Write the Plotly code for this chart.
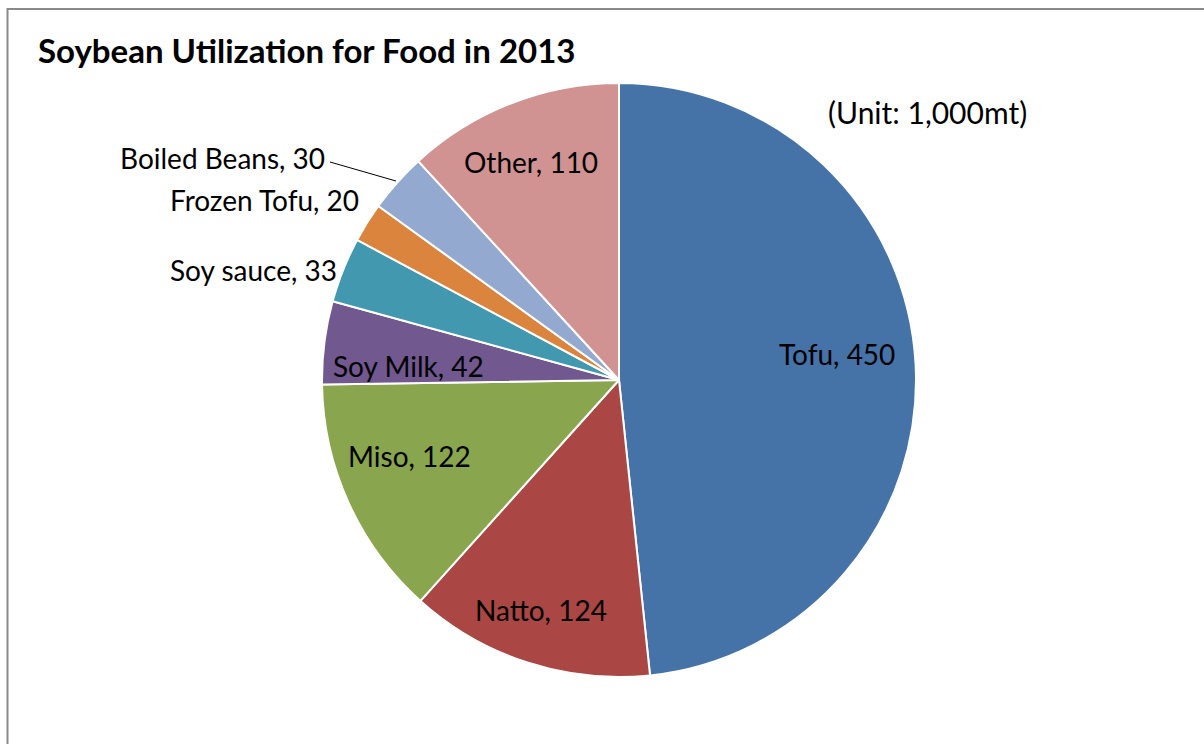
import plotly.graph_objects as go

W, H = 1204, 744

categories = ["Tofu", "Natto", "Miso", "Soy Milk", "Soy sauce", "Frozen Tofu", "Boiled Beans", "Other"]
values = [450, 124, 122, 42, 33, 20, 30, 110]
colors = ["#4572A7", "#AA4643", "#89A54E", "#71588F", "#4198AF", "#DB843D", "#93A9CF", "#D19392"]

FONT = "Lato"

def px(x):
    return x / W

def py(y):
    return 1 - y / H

cx, cy, r = 619, 380, 297

fig = go.Figure(go.Pie(
    labels=categories,
    values=values,
    sort=False,
    direction="clockwise",
    rotation=0,
    marker=dict(colors=colors, line=dict(color="white", width=2)),
    textinfo="none",
    hoverinfo="label+value",
    showlegend=False,
    domain=dict(x=[px(cx - r), px(cx + r)], y=[py(cy + r), py(cy - r)]),
))

# label placement (pixel positions of text anchors)
label_pos = {
    "Tofu": (837, 354, "center"),
    "Natto": (541, 610, "center"),
    "Miso": (409, 456, "center"),
    "Soy Milk": (408, 366, "center"),
    "Soy sauce": (339, 270, "right"),
    "Frozen Tofu": (361, 200, "right"),
    "Boiled Beans": (327, 158, "right"),
    "Other": (531, 162, "center"),
}

annotations = []
for cat, val in zip(categories, values):
    x, y, anc = label_pos[cat]
    annotations.append(dict(
        x=px(x), y=py(y), xref="paper", yref="paper",
        text=f"{cat}, {val}", showarrow=False,
        xanchor=anc, yanchor="middle",
        font=dict(family=FONT, size=28, color="#000000"),
    ))

annotations.append(dict(
    x=px(927), y=py(112), xref="paper", yref="paper",
    text="(Unit: 1,000mt)", showarrow=False, xanchor="center", yanchor="middle",
    font=dict(family=FONT, size=30, color="#000000"),
))
annotations.append(dict(
    x=px(36), y=py(50), xref="paper", yref="paper",
    text="<b>Soybean Utilization for Food in 2013</b>", showarrow=False,
    xanchor="left", yanchor="middle",
    font=dict(family=FONT, size=33, color="#000000"),
))

shapes = [
    # chart frame
    dict(type="rect", xref="paper", yref="paper",
         x0=px(7.5), x1=px(1215), y0=py(760), y1=py(9),
         line=dict(color="#8a8a8a", width=2), fillcolor="rgba(0,0,0,0)", layer="below"),
    # leader line for Boiled Beans
    dict(type="line", xref="paper", yref="paper",
         x0=px(330), y0=py(162), x1=px(396), y1=py(181),
         line=dict(color="#000000", width=1)),
]

fig.update_layout(
    width=W, height=H,
    margin=dict(l=0, r=0, t=0, b=0),
    paper_bgcolor="white",
    plot_bgcolor="white",
    annotations=annotations,
    shapes=shapes,
)

fig.write_html("out.html")
